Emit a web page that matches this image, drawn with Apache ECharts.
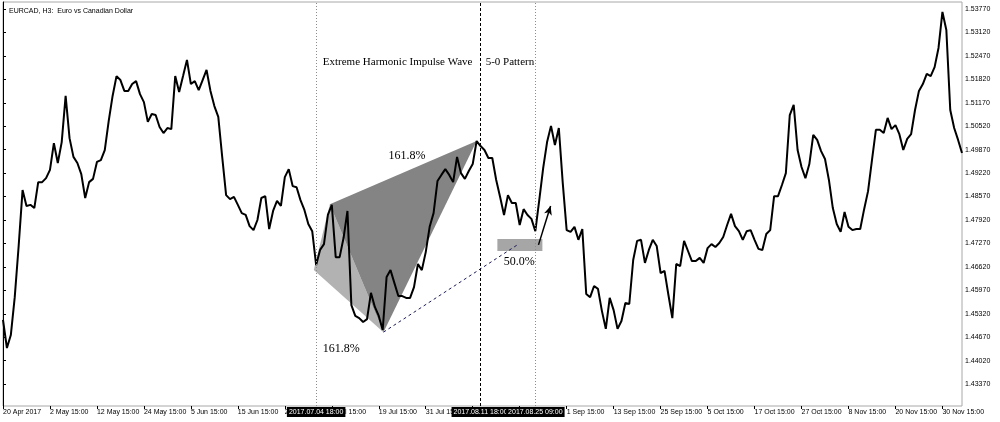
<!DOCTYPE html>
<html>
<head>
<meta charset="utf-8">
<script src="https://cdn.jsdelivr.net/npm/echarts@6/dist/echarts.min.js"></script>
<style>
  html, body { margin: 0; padding: 0; background: #fff; }
  #chart { width: 1000px; height: 422px; }
</style>
</head>
<body>
<div id="chart"></div>
<script>
// time axis labels, one every 12 bars
const tickLabels = ['20 Apr 2017', '2 May 15:00', '12 May 15:00', '24 May 15:00', '5 Jun 15:00',
  '15 Jun 15:00', '26 Jun 15:00', '7 Jul 15:00', '19 Jul 15:00', '31 Jul 15:00', '10 Aug 15:00',
  '22 Aug 15:00', '1 Sep 15:00', '13 Sep 15:00', '25 Sep 15:00', '5 Oct 15:00', '17 Oct 15:00',
  '27 Oct 15:00', '8 Nov 15:00', '20 Nov 15:00', '30 Nov 15:00'];
const tickStep = 12;

const priceTicks = [1.43370, 1.44020, 1.44670, 1.45320, 1.45970, 1.46620, 1.47270, 1.47920,
  1.48570, 1.49220, 1.49870, 1.50520, 1.51170, 1.51820, 1.52470, 1.53120, 1.53770];

// EURCAD closes
const closes = [
  1.4515, 1.4437, 1.4473, 1.4578, 1.4720, 1.4875, 1.4831, 1.4834, 1.4825, 1.4897,
  1.4897, 1.4908, 1.4931, 1.5005, 1.4950, 1.5008, 1.5136, 1.5019, 1.4967, 1.4950,
  1.4919, 1.4853, 1.4897, 1.4906, 1.4953, 1.4958, 1.4986, 1.5066, 1.5136, 1.5191,
  1.5180, 1.5150, 1.5150, 1.5169, 1.5177, 1.5141, 1.5119, 1.5064, 1.5086, 1.5083,
  1.5050, 1.5033, 1.5047, 1.5044, 1.5191, 1.5147, 1.5191, 1.5236, 1.5169, 1.5177,
  1.5152, 1.5180, 1.5208, 1.5150, 1.5108, 1.5078, 1.4967, 1.4861, 1.4850, 1.4856,
  1.4834, 1.4811, 1.4806, 1.4775, 1.4764, 1.4792, 1.4853, 1.4858, 1.4767, 1.4817,
  1.4845, 1.4831, 1.4911, 1.4933, 1.4886, 1.4883, 1.4847, 1.4820, 1.4781, 1.4761,
  1.4667, 1.4709, 1.4725, 1.4806, 1.4834, 1.4689, 1.4689, 1.4742, 1.4817, 1.4556,
  1.4526, 1.4520, 1.4509, 1.4517, 1.4590, 1.4551, 1.4526, 1.4487, 1.4634, 1.4653,
  1.4617, 1.4581, 1.4581, 1.4576, 1.4576, 1.4606, 1.4670, 1.4653, 1.4703, 1.4773,
  1.4811, 1.4900, 1.4917, 1.4933, 1.4917, 1.4897, 1.4967, 1.4922, 1.4906, 1.4928,
  1.4947, 1.5011, 1.4997, 1.4986, 1.4964, 1.4964, 1.4903, 1.4856, 1.4806, 1.4861,
  1.4839, 1.4839, 1.4778, 1.4822, 1.4806, 1.4795, 1.4761, 1.4847, 1.4936, 1.5008,
  1.5053, 1.5000, 1.5047, 1.4895, 1.4764, 1.4759, 1.4773, 1.4737, 1.4767, 1.4587,
  1.4578, 1.4609, 1.4601, 1.4540, 1.4490, 1.4576, 1.4542, 1.4490, 1.4512, 1.4562,
  1.4559, 1.4681, 1.4734, 1.4737, 1.4673, 1.4709, 1.4737, 1.4720, 1.4645, 1.4651,
  1.4584, 1.4520, 1.4670, 1.4664, 1.4734, 1.4706, 1.4678, 1.4678, 1.4687, 1.4673,
  1.4714, 1.4725, 1.4717, 1.4728, 1.4745, 1.4778, 1.4809, 1.4775, 1.4761, 1.4737,
  1.4761, 1.4764, 1.4737, 1.4712, 1.4709, 1.4753, 1.4764, 1.4858, 1.4858, 1.4889,
  1.4922, 1.5083, 1.5111, 1.4986, 1.4939, 1.4908, 1.4947, 1.5028, 1.5014, 1.4983,
  1.4961, 1.4903, 1.4825, 1.4781, 1.4759, 1.4814, 1.4773, 1.4764, 1.4767, 1.4767,
  1.4822, 1.4872, 1.4958, 1.5042, 1.5042, 1.5033, 1.5075, 1.5044, 1.5055, 1.5030,
  1.4986, 1.5017, 1.5030, 1.5097, 1.5150, 1.5169, 1.5197, 1.5191, 1.5216, 1.5269,
  1.5369, 1.5319, 1.5097, 1.5047, 1.5014, 1.4978
];

// 5-0 pattern points X, A, B, C (bar index, price)
const patternIdx = [79.4, 83.5, 97.2, 121.0];
const patternPrice = [1.4653, 1.4836, 1.4481, 1.5011];
// projected D point and its zone
const dIdx = 131.4, dPrice = 1.4723;
const zoneIdx = [126.3, 137.8];
const zonePrice = [1.4706, 1.4739];
const arrowIdx = [136.8, 139.9];
const arrowPrice = [1.4723, 1.4831];

// vertical time markers
const markerIdx = [80, 122, 136];
const markerLabels = ['2017.07.04 18:00', '2017.08.11 18:00', '2017.08.25 09:00'];

// text notes
const noteText = ['Extreme Harmonic Impulse Wave', '5-0 Pattern', '161.8%', '161.8%', '50.0%'];
const noteIdx = [81.7, 123.3, 98.5, 81.7, 127.9];
const notePrice = [1.5230, 1.5230, 1.4969, 1.4434, 1.4675];
const noteSize = [11, 11, 12, 12, 12];

const tickValues = tickLabels.map((t, i) => i * tickStep);
const sans = '"Liberation Sans", Arial, sans-serif';
const serif = '"Liberation Serif", "Times New Roman", serif';

var chart = echarts.init(document.getElementById('chart'));

var option = {
    animation: false,
    title: {
        text: 'EURCAD, H3:  Euro vs Canadian Dollar',
        left: 4, top: 3,
        textStyle: { fontSize: 7, fontWeight: 'normal', color: '#000', fontFamily: sans }
    },
    grid: { left: 2, top: 2, right: 38, bottom: 16, show: true, borderColor: '#a8a8a8', borderWidth: 1 },
    xAxis: {
        type: 'value',
        min: 0,
        max: closes.length - 1,
        splitLine: { show: false },
        axisLine: { show: false },
        axisTick: { show: true, length: 3, customValues: tickValues, lineStyle: { color: '#000' } },
        axisLabel: {
            customValues: tickValues,
            formatter: v => tickLabels[Math.round(v / tickStep)],
            align: 'left',
            fontSize: 7,
            color: '#000',
            margin: 3,
            fontFamily: sans
        }
    },
    yAxis: {
        type: 'value',
        position: 'right',
        min: 1.42762,
        max: 1.53965,
        splitLine: { show: false },
        axisLine: { show: true, lineStyle: { color: '#000' } },
        axisTick: { show: true, length: 3, customValues: priceTicks, lineStyle: { color: '#000' } },
        axisLabel: {
            customValues: priceTicks,
            formatter: v => v.toFixed(5),
            fontSize: 7,
            color: '#000',
            margin: 3,
            fontFamily: sans
        }
    },
    series: [
        {
            // triangles and D zone
            type: 'custom',
            silent: true,
            z: 1,
            data: [[0], [1], [2]],
            renderItem: function (params, api) {
                var pt = k => api.coord([patternIdx[k], patternPrice[k]]);
                if (params.dataIndex === 0) {
                    return { type: 'polygon', shape: { points: [pt(0), pt(1), pt(2)] }, style: { fill: '#b2b2b2' } };
                }
                if (params.dataIndex === 1) {
                    return { type: 'polygon', shape: { points: [pt(1), pt(3), pt(2)] }, style: { fill: '#848484' } };
                }
                var p0 = api.coord([zoneIdx[0], zonePrice[1]]);
                var p1 = api.coord([zoneIdx[1], zonePrice[0]]);
                return { type: 'rect', shape: { x: p0[0], y: p0[1], width: p1[0] - p0[0], height: p1[1] - p0[1] }, style: { fill: '#a6a6a6' } };
            }
        },
        {
            name: 'EURCAD',
            type: 'line',
            z: 3,
            showSymbol: false,
            silent: true,
            data: closes.map((v, i) => [i, v]),
            lineStyle: { color: '#000', width: 2 },
            markLine: {
                silent: true,
                symbol: ['none', 'none'],
                animation: false,
                data: markerIdx.map((x, k) => ({
                    xAxis: x,
                    lineStyle: { color: k === 1 ? '#000' : '#8c8c8c', type: k === 1 ? [3, 2] : [1, 2], width: 1 },
                    label: {
                        show: true, position: 'start', distance: 1,
                        formatter: markerLabels[k],
                        backgroundColor: '#000', color: '#fff',
                        padding: [2, 2, 1, 2], fontSize: 7, fontFamily: sans
                    }
                })).concat([
                    [
                        { coord: [patternIdx[2], patternPrice[2]], symbol: 'none' },
                        { coord: [dIdx, dPrice], symbol: 'none',
                          lineStyle: { color: '#1c1c5a', type: [3, 3], width: 1 }, label: { show: false } }
                    ],
                    [
                        { coord: [arrowIdx[0], arrowPrice[0]], symbol: 'none' },
                        { coord: [arrowIdx[1], arrowPrice[1]], symbol: 'arrow', symbolSize: [6, 9],
                          lineStyle: { color: '#000', type: 'solid', width: 1.5 }, label: { show: false } }
                    ]
                ])
            }
        },
        {
            // text notes
            type: 'custom',
            silent: true,
            z: 4,
            data: noteText.map((t, i) => [i]),
            renderItem: function (params, api) {
                var k = params.dataIndex;
                var p = api.coord([noteIdx[k], notePrice[k]]);
                return {
                    type: 'text', x: p[0], y: p[1],
                    style: { text: noteText[k], fill: '#000', font: noteSize[k] + 'px ' + serif, textAlign: 'left', textVerticalAlign: 'middle' }
                };
            }
        }
    ]
};

option && chart.setOption(option);
</script>
</body>
</html>
